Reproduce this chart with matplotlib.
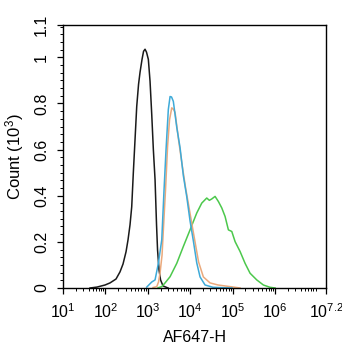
import numpy as np
import matplotlib
matplotlib.use("Agg")
import matplotlib.pyplot as plt
from matplotlib.ticker import FixedLocator, MultipleLocator, LogLocator, NullFormatter

plt.rcParams["font.family"] = ["Liberation Sans", "DejaVu Sans"]
plt.rcParams["mathtext.fontset"] = "custom"
plt.rcParams["mathtext.rm"] = "Liberation Sans"
plt.rcParams["mathtext.it"] = "Liberation Sans:italic"

# Histogram traces: log10(AF647-H) vs count (x10^3)
black_log = [1.637, 1.802, 1.991, 2.108, 2.25, 2.344, 2.415, 2.486, 2.533, 2.58, 2.62,
             2.658, 2.698, 2.738, 2.781, 2.816, 2.863, 2.899, 2.934, 2.969, 3.012, 3.052,
             3.092, 3.13, 3.17, 3.205, 3.229, 3.264, 3.3, 3.358, 3.476]
black_cnt = [0.0, 0.004, 0.013, 0.022, 0.039, 0.07, 0.104, 0.157, 0.209, 0.274, 0.352,
             0.5, 0.643, 0.787, 0.883, 0.935, 0.991, 1.026, 1.035, 1.022, 0.991, 0.896,
             0.752, 0.6, 0.47, 0.274, 0.165, 0.078, 0.035, 0.009, 0.0]

blue_log = [2.974, 3.092, 3.17, 3.248, 3.328, 3.382, 3.429, 3.483, 3.524, 3.559, 3.601,
            3.682, 3.759, 3.837, 3.917, 3.995, 4.073, 4.153, 4.231, 4.349, 4.538, 4.821, 4.986]
blue_cnt = [0.004, 0.026, 0.035, 0.107, 0.209, 0.426, 0.6, 0.774, 0.83, 0.828, 0.809,
            0.696, 0.609, 0.487, 0.396, 0.291, 0.204, 0.109, 0.048, 0.013, 0.003, 0.001, 0.0]

orange_log = [3.123, 3.21, 3.252, 3.288, 3.335, 3.366, 3.417, 3.465, 3.512, 3.564, 3.606,
              3.642, 3.724, 3.807, 3.889, 3.972, 4.054, 4.125, 4.196, 4.309, 4.467, 4.656,
              4.939, 5.175]
orange_cnt = [0.002, 0.006, 0.026, 0.065, 0.143, 0.252, 0.426, 0.613, 0.73, 0.781, 0.774,
              0.761, 0.643, 0.535, 0.435, 0.348, 0.261, 0.187, 0.113, 0.048, 0.022, 0.013,
              0.006, 0.0]

green_log = [3.241, 3.328, 3.406, 3.524, 3.682, 3.837, 3.995, 4.153, 4.271, 4.389, 4.45,
             4.507, 4.585, 4.663, 4.743, 4.821, 4.899, 4.979, 5.057, 5.175, 5.292, 5.41,
             5.568, 5.724, 5.882, 6.0]
green_cnt = [0.001, 0.006, 0.022, 0.049, 0.107, 0.18, 0.252, 0.325, 0.368, 0.39, 0.38,
             0.386, 0.397, 0.375, 0.347, 0.31, 0.252, 0.245, 0.201, 0.158, 0.107, 0.064,
             0.035, 0.013, 0.003, 0.0]

x_exponents = [1, 2, 3, 4, 5, 6, 7.2]
x_ticklabels = ["$10^{1}$", "$10^{2}$", "$10^{3}$", "$10^{4}$", "$10^{5}$", "$10^{6}$", "$10^{7.2}$"]
y_ticks = [0, 0.2, 0.4, 0.6, 0.8, 1.0, 1.14]
y_ticklabels = ["0", "0.2", "0.4", "0.6", "0.8", "1", "1.1"]

fig = plt.figure(figsize=(3.42, 3.50), dpi=100)
ax = fig.add_axes([63 / 342, 62 / 350, 263 / 342, 263 / 350])

series = [
    (black_log, black_cnt, "#1a1a1a"),
    (green_log, green_cnt, "#4cc84c"),
    (orange_log, orange_cnt, "#eaa97c"),
    (blue_log, blue_cnt, "#3eaad8"),
]
for lx, cnt, col in series:
    ax.plot(10 ** np.asarray(lx), cnt, color=col, lw=1.1)

ax.set_xscale("log")
ax.set_xlim(10 ** 1, 10 ** 7.2)
ax.set_ylim(0, 1.14)

ax.xaxis.set_major_locator(FixedLocator([10 ** e for e in x_exponents]))
ax.set_xticklabels(x_ticklabels)
ax.xaxis.set_minor_locator(LogLocator(base=10, subs=np.arange(2, 10), numticks=20))
ax.xaxis.set_minor_formatter(NullFormatter())

ax.yaxis.set_major_locator(FixedLocator(y_ticks))
ax.set_yticklabels(y_ticklabels, rotation=90, va="center")
ax.yaxis.set_minor_locator(MultipleLocator(0.2 / 6))

ax.tick_params(which="major", direction="out", length=4, width=0.9, labelsize=11.5)
ax.tick_params(which="minor", direction="out", length=2.2, width=0.7)
ax.tick_params(axis="y", which="major", pad=6)
ax.tick_params(axis="x", which="major", pad=6)

for s in ax.spines.values():
    s.set_linewidth(1.0)
    s.set_color("black")

ax.set_ylabel("Count (10$^{3}$)", fontsize=12, labelpad=6)
ax.set_xlabel("AF647-H", fontsize=11.5, labelpad=7)

fig.savefig("out.png", dpi=100)
